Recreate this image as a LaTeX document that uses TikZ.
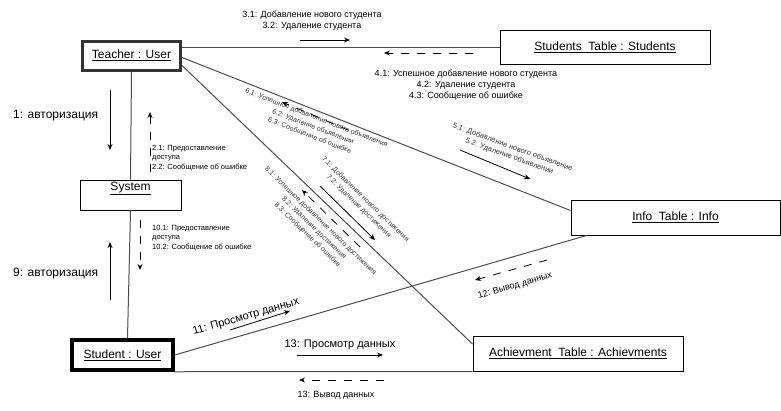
\documentclass[tikz,border=0pt]{standalone}
\usepackage{fontspec}
\setmainfont{Liberation Sans}
\usetikzlibrary{arrows.meta}

\begin{document}
\begin{tikzpicture}[x=1pt,y=-1pt,
  obj/.style={draw, rectangle, line width=1pt, inner sep=0pt, font=\fontsize{12}{14}\selectfont},
  actor/.style={obj, line width=3pt},
  conn/.style={draw=black!70, line width=1pt},
  msg/.style={-{Stealth[length=6pt,width=5pt]}, line width=0.8pt},
  reply/.style={msg, dash pattern=on 8pt off 8pt},
  note/.style={inner sep=0pt, align=center, font=\fontsize{9}{11}\selectfont},
  small/.style={inner sep=0pt, align=left, font=\fontsize{7.5}{9.5}\selectfont},
  tilted/.style={inner sep=0pt, align=center, font=\fontsize{7}{9.5}\selectfont, text=black!80},
]
\useasboundingbox (0,0) rectangle (781,410);

% objects
\node[actor, draw=black!80, minimum width=98, minimum height=29] (teacher) at (131.5,55.5) {\underline{Teacher : User}};
\node[obj, minimum width=101, minimum height=30, label={[anchor=north, inner sep=0pt, yshift=-2pt, font=\fontsize{12}{14}\selectfont]north:\underline{System}}] (system) at (130.5,195) {};
\node[actor, line width=3.5pt, minimum width=101, minimum height=30] (student) at (122.5,355) {\underline{Student : User}};
\node[obj, minimum width=210, minimum height=34] (students) at (605,47) {\underline{Students~ Table : Students}};
\node[obj, minimum width=209, minimum height=35] (info) at (675.5,217.5) {\underline{Info~ Table : Info}};
\node[obj, minimum width=210, minimum height=35] (achieve) at (578,353.5) {\underline{Achievment~ Table : Achievments}};

% links
\draw[conn] (students.west) -- (students.west -| teacher.east);
\draw[conn] (teacher.south) -- (system.north);
\draw[conn] (system.south) -- ([xshift=5pt]student.north);
\draw[conn] ([yshift=-2pt]teacher.east) -- ([yshift=7pt]info.west);
\draw[conn] ([yshift=-10pt]teacher.east) -- ([yshift=9.5pt]achieve.west);
\draw[conn] (student.east) -- ([xshift=16pt]info.south west);
\draw[conn] (student.south east) -- (achieve.south west);

% messages
\node[note] (m3) at (312,21) {3.1: Добавление нового студента\\3.2: Удаление студента};
\draw[msg] (300,40) -- (350,40);
\node[note] (m4) at (466,85) {4.1: Успешное добавление нового студента\\4.2: Удаление студента\\4.3: Сообщение об ошибке};
\draw[reply] (473,53) -- (384,53);

\node[anchor=west, inner sep=0pt, font=\fontsize{12}{14}\selectfont] (m1) at (13,116) {1: авторизация};
\draw[msg] (110,90) -- (110,150);
\node[small, anchor=north west] (m2) at (152,145) {2.1: Предоставление\\доступа\\2.2: Сообщение об ошибке};
\draw[reply] (150,172) -- (150,112);

\node[small, anchor=north west] (m10) at (152,225) {10.1: Предоставление\\доступа\\10.2: Сообщение об ошибке};
\draw[reply] (140,220) -- (140,270);
\node[anchor=west, inner sep=0pt, font=\fontsize{12}{14}\selectfont] (m9) at (13,274) {9: авторизация};
\draw[msg] (110,300) -- (110,242);

\node[tilted, rotate=-20, font=\fontsize{7.5}{9.5}\selectfont] (m5) at (511,152) {5.1: Добавление нового объявление\\5.2: Удаление объявлении};
\draw[msg] (460,150) -- (530,179);
\node[tilted, rotate=-21] (m6) at (313,127) {6.1: Успешное добавление нового объявления\\6.2: Удаление объявлении\\6.3: Сообщение об ошибке};
\draw[reply] (348,130) -- (282,102);

\node[tilted, rotate=-44] (m7) at (362,203) {7.1: Добавление нового достижения\\7.2: Удаление достижения};
\draw[msg] (320,186) -- (375,240);
\node[tilted, rotate=-44] (m8) at (314,228) {8.1: Успешное добавление нового достижения\\8.2: Удаление достижения\\8.3: Сообщение об ошибке};
\draw[reply] (360,247) -- (302,190);

\node[inner sep=0pt, rotate=16, font=\fontsize{11}{13}\selectfont] (m11) at (246,317) {11: Просмотр данных};
\draw[msg] (230,330) -- (290,311);
\node[note, rotate=16] (m12) at (515,286) {12: Вывод данных};
\draw[reply] (547,260) -- (475,280);

\node[inner sep=0pt, font=\fontsize{11}{13}\selectfont] (m13) at (340,345) {13: Просмотр данных};
\draw[msg] (297,355) -- (383,355);
\node[note] (m13b) at (336,395) {13: Вывод данных};
\draw[reply] (384,380) -- (299,380);
\end{tikzpicture}
\end{document}
